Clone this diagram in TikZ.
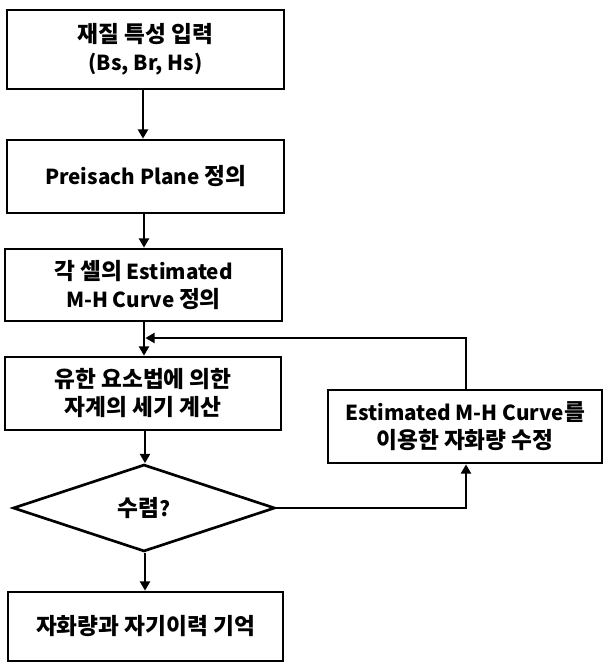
\documentclass[tikz,border=0pt]{standalone}
\usepackage{fontspec}
\setmainfont{Noto Sans CJK KR}
\usetikzlibrary{arrows.meta,shapes.geometric}
\newcommand\kr[1]{{\fontsize{17pt}{21pt}\selectfont #1}}
\begin{document}
\begin{tikzpicture}[x=0.75pt,y=-0.75pt,
  font=\fontsize{15.5pt}{21pt}\selectfont\bfseries,
  procbox/.style={draw,line width=2pt,rectangle,align=center,inner sep=0pt},
  decbox/.style={draw,line width=2pt,diamond,align=center,inner sep=0pt,minimum width=196.5pt,minimum height=65.25pt},
  conn/.style={line width=2.1pt,-{Triangle[length=7pt,width=7.5pt]}}]
\useasboundingbox (0,0) rectangle (604,664);
\node[procbox,minimum width=207.75pt,minimum height=59.25pt] (b1) at (145.5,49.5) {\kr{재질 특성 입력}\\(Bs, Br, Hs)};
\node[procbox,minimum width=207.75pt,minimum height=54.75pt] (b2) at (145.5,176.5) {Preisach Plane \kr{정의}};
\node[procbox,minimum width=207.75pt,minimum height=54pt] (b3) at (143.5,285) {\kr{각 셀의} Estimated\\M-H Curve \kr{정의}};
\node[procbox,minimum width=207pt,minimum height=54.75pt] (b4) at (143,393.5) {\kr{유한 요소법에 의한}\\\kr{자계의 세기 계산}};
\node[decbox] (d) at (144,508) {\kr{수렴}?};
\node[procbox,minimum width=206.25pt,minimum height=51.75pt] (b5) at (145.5,626.5) {\kr{자화량과 자기이력 기억}};
\node[procbox,minimum width=205.5pt,minimum height=54.75pt] (r) at (465,426.5) {Estimated M-H Curve\kr{를}\\\kr{이용한 자화량 수정}};
\coordinate (j) at (144,338);
\coordinate (rb) at (466,0);
\draw[conn] (b1.south -| 143,0) -- (b2.north -| 143,0);
\draw[conn] (b2.south -| 144,0) -- (b3.north -| 144,0);
\draw[conn] (b3.south -| j) -- (b4.north -| j);
\draw[conn] (b4.south -| 145,0) -- (d.north -| 145,0);
\draw[conn] (d.south -| 145,0) -- (b5.north -| 145,0);
\draw[conn] (d.east) -| (r.south -| rb);
\draw[conn] (r.north -| rb) |- ([xshift=1pt]j);
\end{tikzpicture}
\end{document}
